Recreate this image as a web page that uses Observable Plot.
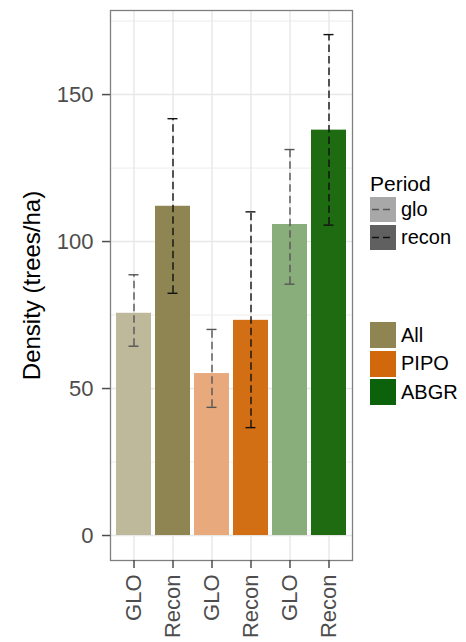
<!DOCTYPE html>
<html>
<head>
<meta charset="utf-8">
<script src="https://cdn.jsdelivr.net/npm/d3@7"></script>
<script src="https://cdn.jsdelivr.net/npm/@observablehq/plot@0.6"></script>
<style>
  html, body { margin: 0; padding: 0; background: #fff; }
  #wrap { position: relative; width: 466px; height: 642px; font-family: "Liberation Sans", Arial, sans-serif; }
  .legend { position: absolute; left: 370px; color: #000; }
  .ltitle { font-size: 21px; line-height: 24px; }
  .lrow { display: flex; align-items: center; height: 27.5px; }
  .lkey { width: 26px; height: 25px; margin-right: 5px; box-sizing: border-box; }
  .llab { font-size: 20px; }
</style>
</head>
<body>
<div id="wrap"></div>
<script>
// ---- data ----
const groups  = ["All", "All", "PIPO", "PIPO", "ABGR", "ABGR"];
const periods = ["glo", "recon", "glo", "recon", "glo", "recon"];
const labels  = ["GLO", "Recon", "GLO", "Recon", "GLO", "Recon"];
const density = [75.6, 112.0, 55.1, 73.2, 105.8, 137.9];
const lower   = [64.4, 82.4, 43.6, 36.7, 85.5, 105.6];
const upper   = [88.7, 141.8, 70.1, 110.1, 131.3, 170.4];
const barColors = ["#bfb99c", "#8f8553", "#e8aa7c", "#d26e14", "#8aad7c", "#1e6b12"];
const legendGroups = ["All", "PIPO", "ABGR"];
const legendColors = ["#8f8553", "#d2680c", "#0b620b"];
const periodNames = ["glo", "recon"];
const periodKeyFill = ["#a8a8a8", "#606060"];
const periodLine = ["#555555", "#111111"];
const majorTicks = [0, 50, 100, 150];
const minorTicks = [25, 75, 125, 175];

const data = groups.map((g, i) => ({
  key: g + "-" + periods[i],
  group: g, period: periods[i], label: labels[i],
  density: density[i], lower: lower[i], upper: upper[i], color: barColors[i]
}));
const labelOf = Object.fromEntries(data.map(d => [d.key, d.label]));
const errColor = d => periodLine[periodNames.indexOf(d.period)];

const chart = Plot.plot({
  width: 466,
  height: 642,
  marginLeft: 110,
  marginRight: 114,
  marginTop: 10,
  marginBottom: 82,
  style: { fontFamily: "Liberation Sans, Arial, sans-serif", fontSize: "22px", background: "#fff" },
  x: { domain: data.map(d => d.key), paddingInner: 0.1, paddingOuter: 0.15, align: 0.5 },
  y: { domain: [-8.5, 178.6], nice: false },
  marks: [
    Plot.gridY(minorTicks, { stroke: "#ececec", strokeOpacity: 1, strokeWidth: 1 }),
    Plot.gridY(majorTicks, { stroke: "#e8e8e8", strokeOpacity: 1, strokeWidth: 1.5 }),
    Plot.gridX({ stroke: "#e8e8e8", strokeOpacity: 1, strokeWidth: 1.5 }),
    Plot.barY(data, { x: "key", y1: 0, y2: "density", fill: "color" }),
    Plot.ruleX(data, { x: "key", y1: "lower", y2: "upper", stroke: errColor, strokeWidth: 1.4, strokeDasharray: "7.5,4" }),
    Plot.tickY(data, { x: "key", y: "upper", stroke: errColor, strokeWidth: 1.4, insetLeft: 12.5, insetRight: 12.5 }),
    Plot.tickY(data, { x: "key", y: "lower", stroke: errColor, strokeWidth: 1.4, insetLeft: 12.5, insetRight: 12.5 }),
    Plot.frame({ stroke: "#7f7f7f", strokeWidth: 1.3 }),
    Plot.axisY(majorTicks, {
      tickSize: 8, tickPadding: 9, color: "#4d4d4d", strokeWidth: 1.5, fontSize: 22,
      label: null
    }),
    Plot.axisY({
      ticks: [], tickSize: 0, color: "#000", fontSize: 24,
      label: "Density (trees/ha)", labelAnchor: "center", labelArrow: "none", labelOffset: 88
    }),
    Plot.axisX({
      tickSize: 8, tickPadding: 6, color: "#4d4d4d", strokeWidth: 1.5, fontSize: 22,
      tickRotate: -90, tickFormat: k => labelOf[k], label: null
    })
  ]
});

const wrap = document.getElementById("wrap");
wrap.appendChild(chart);

// ---- legends ----
const pl = document.createElement("div");
pl.className = "legend";
pl.style.top = "172px";
pl.innerHTML = `<div class="ltitle">Period</div>` + periodNames.map((p, i) =>
  `<div class="lrow"><svg class="lkey" width="26" height="25" style="background:${periodKeyFill[i]}"><line x1="2" x2="24" y1="12.5" y2="12.5" stroke="${periodLine[i]}" stroke-width="1.4" stroke-dasharray="7,4"/></svg><span class="llab">${p}</span></div>`
).join("");
wrap.appendChild(pl);

const sl = document.createElement("div");
sl.className = "legend";
sl.style.top = "321px";
sl.innerHTML = legendGroups.map((g, i) =>
  `<div class="lrow" style="height:28.5px"><div class="lkey" style="background:${legendColors[i]};height:26px"></div><span class="llab">${g}</span></div>`
).join("");
wrap.appendChild(sl);
</script>
</body>
</html>
